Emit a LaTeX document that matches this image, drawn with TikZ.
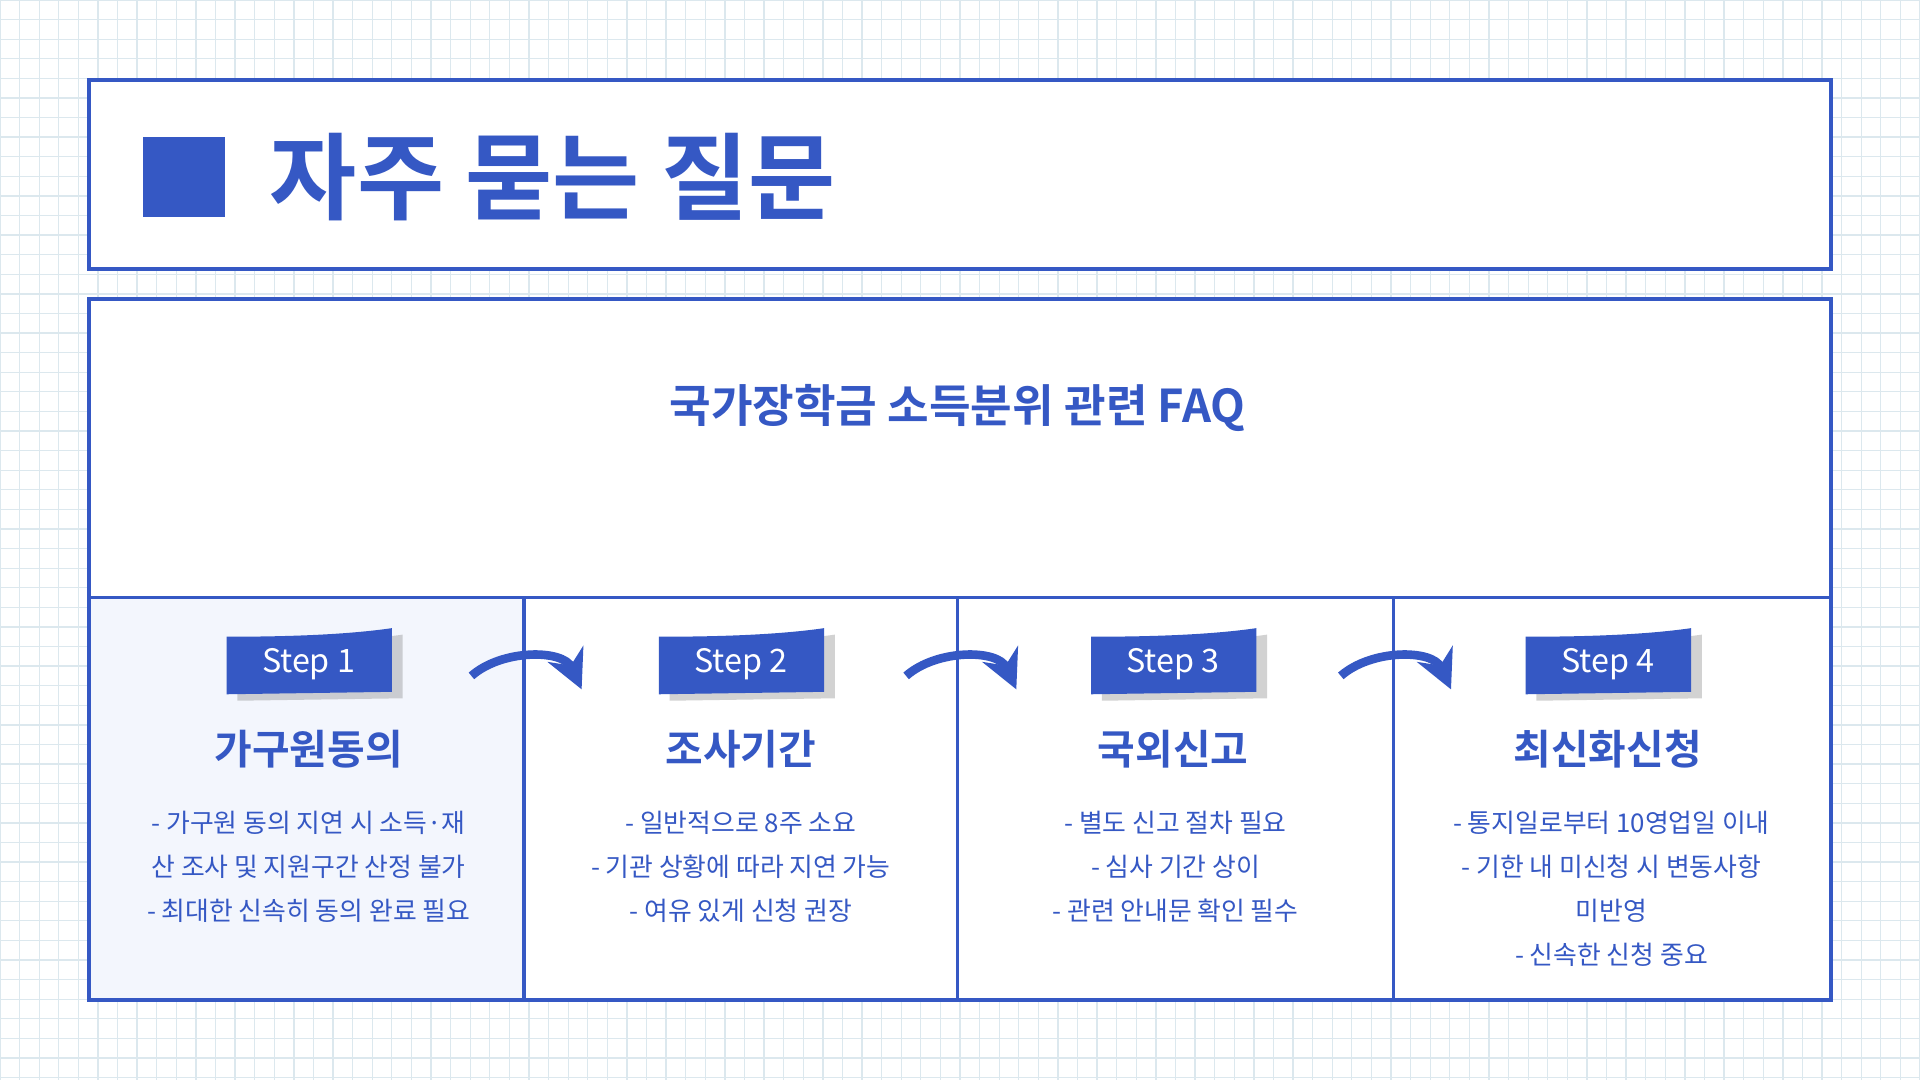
\documentclass[tikz,border=0pt]{standalone}
\usepackage{fontspec}
\newfontfamily\kr{Noto Sans CJK KR}
\newfontfamily\krb{Noto Sans CJK KR Bold}
\usetikzlibrary{arrows.meta,shadows}
\definecolor{bl}{HTML}{3558C4}
\definecolor{grd}{HTML}{DCE8EE}
\definecolor{fillc}{HTML}{F3F6FD}
\tikzset{
 frame/.style={draw=bl,line width=0.9pt},
 badge/.style={fill=bl,drop shadow={shadow xshift=2.5pt,shadow yshift=-1.5pt,opacity=0.35}},
 badgetxt/.style={text=white,font=\kr\fontsize{7.5}{7.5}\selectfont},
 head/.style={text=bl,font=\krb\fontsize{9.5}{9.5}\selectfont},
 body/.style={text=bl,font=\kr\fontsize{6}{10.2}\selectfont,align=center},
 arr/.style={draw=bl,line width=2pt,-{Stealth[length=9pt,width=9pt]}}
}
\begin{document}
\begin{tikzpicture}[x=0.01cm,y=-0.01cm]
\useasboundingbox (0,0) rectangle (1568,882);
\fill[white] (0,0) rectangle (1568,882);
\foreach \i in {0,16,...,1568} \draw[grd,line width=0.3pt] (\i,0) -- (\i,882);
\foreach \j in {0,16,...,882} \draw[grd,line width=0.3pt] (0,\j) -- (1568,\j);
% header
\draw[frame,fill=white] (73,65) rectangle (1495,220);
\fill[bl] (117,112) rectangle (184,177);
\node[anchor=west,text=bl,font=\krb\fontsize{22}{22}\selectfont] (title) at (208,145) {자주 묻는 질문};
% main
\draw[frame,fill=white] (73,244) rectangle (1495,817);
\fill[fillc] (73,488) rectangle (428,817);
\draw[bl,line width=0.9pt] (73,488) -- (1495,488);
\foreach \x in {428,782,1138} \draw[bl,line width=0.9pt] (\x,488) -- (\x,817);
\draw[frame] (73,244) rectangle (1495,817);
\node[text=bl,font=\krb\fontsize{10.5}{10.5}\selectfont] (sub) at (782,333) {국가장학금 소득분위 관련 FAQ};
% steps
\foreach \cx/\n/\h [count=\k] in {252/1/가구원동의,605/2/조사기간,958/3/국외신고,1313/4/최신화신청}{
  \fill[badge] (\cx-67,567) -- (\cx-67,520) .. controls (\cx,520) and (\cx+40,517) .. (\cx+68,513) -- (\cx+68,565) -- cycle;
  \node[badgetxt] (b\k) at (\cx,542) {Step \n};
  \node[head] (h\k) at (\cx,612) {\h};
}
\node[body,anchor=north] (t1) at (252,650) {- 가구원 동의 지연 시 소득·재\\산 조사 및 지원구간 산정 불가\\- 최대한 신속히 동의 완료 필요};
\node[body,anchor=north] (t2) at (605,650) {- 일반적으로 8주 소요\\- 기관 상황에 따라 지연 가능\\- 여유 있게 신청 권장};
\node[body,anchor=north] (t3) at (960,650) {- 별도 신고 절차 필요\\- 심사 기간 상이\\- 관련 안내문 확인 필수};
\node[body,anchor=north] (t4) at (1316,650) {- 통지일로부터 10영업일 이내\\- 기한 내 미신청 시 변동사항\\미반영\\- 신속한 신청 중요};
\foreach \x [count=\k] in {385,740,1095}{
  \coordinate (s\k) at (\x,552);
  \coordinate (e\k) at (\x+90,563);
  \draw[arr] (s\k) .. controls (\x+25,530) and (\x+75,530) .. (e\k);
}
\end{tikzpicture}
\end{document}
